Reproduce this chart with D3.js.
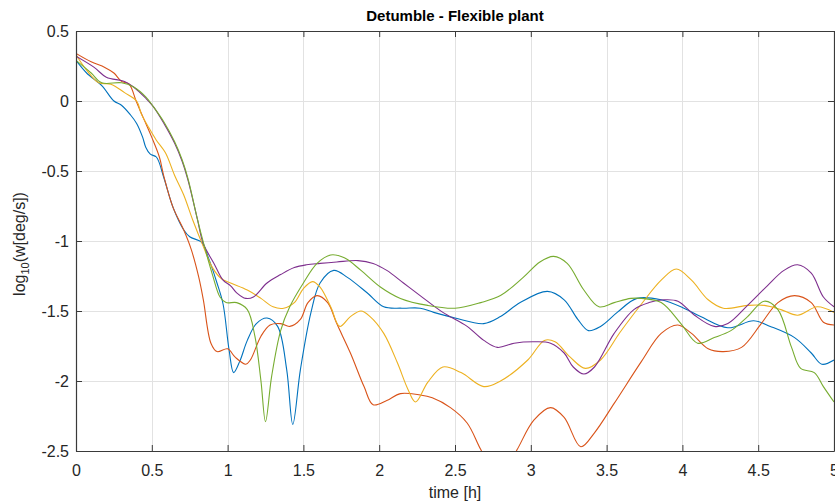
<!DOCTYPE html>
<html>
<head>
<meta charset="utf-8">
<script src="https://cdn.jsdelivr.net/npm/d3@7/dist/d3.min.js"></script>
<style>
  html, body { margin: 0; padding: 0; background: #ffffff; }
  svg { display: block; font-family: "Liberation Sans", Arial, Helvetica, sans-serif; }
</style>
</head>
<body>
<svg id="chart" width="835" height="504"></svg>
<script>
// Angular rate magnitude (log10 of deg/s) over time [h] for five detumble runs.
const seriesBlue = [[0,0.29],[0.07,0.20],[0.17,0.11],[0.25,0.0],[0.30,-0.03],[0.36,-0.10],[0.40,-0.16],[0.44,-0.26],[0.46,-0.33],[0.49,-0.38],[0.53,-0.40],[0.58,-0.55],[0.64,-0.76],[0.71,-0.92],[0.75,-0.97],[0.83,-1.01],[0.87,-1.11],[0.93,-1.30],[0.97,-1.45],[1.01,-1.78],[1.04,-1.94],[1.08,-1.86],[1.13,-1.71],[1.19,-1.59],[1.26,-1.55],[1.33,-1.61],[1.39,-1.92],[1.43,-2.31],[1.48,-1.92],[1.55,-1.51],[1.61,-1.30],[1.70,-1.21],[1.79,-1.26],[1.92,-1.37],[2.03,-1.47],[2.15,-1.48],[2.27,-1.48],[2.36,-1.51],[2.50,-1.55],[2.69,-1.59],[2.80,-1.54],[2.93,-1.44],[3.11,-1.36],[3.22,-1.42],[3.31,-1.56],[3.38,-1.64],[3.46,-1.61],[3.57,-1.51],[3.70,-1.41],[3.86,-1.42],[4.01,-1.48],[4.12,-1.54],[4.30,-1.62],[4.47,-1.57],[4.58,-1.61],[4.74,-1.69],[4.85,-1.80],[4.92,-1.88],[5.0,-1.85]];
const seriesOrange = [[0,0.34],[0.10,0.28],[0.19,0.24],[0.25,0.20],[0.30,0.14],[0.35,0.12],[0.40,-0.01],[0.46,-0.16],[0.50,-0.26],[0.55,-0.40],[0.58,-0.54],[0.64,-0.76],[0.71,-0.92],[0.76,-1.06],[0.81,-1.26],[0.84,-1.42],[0.89,-1.73],[0.93,-1.79],[1.0,-1.77],[1.05,-1.83],[1.12,-1.88],[1.15,-1.85],[1.22,-1.68],[1.28,-1.60],[1.35,-1.59],[1.41,-1.61],[1.48,-1.56],[1.53,-1.44],[1.59,-1.39],[1.66,-1.44],[1.72,-1.59],[1.81,-1.80],[1.90,-2.04],[1.96,-2.17],[2.05,-2.14],[2.14,-2.09],[2.27,-2.10],[2.35,-2.12],[2.47,-2.19],[2.58,-2.30],[2.67,-2.49],[2.79,-2.72],[2.91,-2.49],[3.02,-2.28],[3.13,-2.19],[3.22,-2.26],[3.33,-2.47],[3.42,-2.37],[3.55,-2.16],[3.73,-1.86],[3.86,-1.66],[3.97,-1.60],[4.06,-1.66],[4.17,-1.77],[4.27,-1.79],[4.39,-1.76],[4.52,-1.59],[4.63,-1.44],[4.74,-1.39],[4.85,-1.44],[4.93,-1.58],[5.0,-1.60]];
const seriesYellow = [[0,0.33],[0.07,0.22],[0.15,0.13],[0.23,0.12],[0.32,0.06],[0.40,0.0],[0.43,-0.09],[0.48,-0.19],[0.53,-0.28],[0.59,-0.37],[0.65,-0.53],[0.71,-0.67],[0.77,-0.85],[0.84,-1.04],[0.90,-1.19],[0.96,-1.27],[1.02,-1.30],[1.13,-1.35],[1.22,-1.41],[1.30,-1.47],[1.37,-1.48],[1.44,-1.44],[1.50,-1.34],[1.56,-1.29],[1.61,-1.33],[1.68,-1.47],[1.74,-1.61],[1.81,-1.54],[1.88,-1.50],[1.94,-1.54],[2.03,-1.66],[2.12,-1.87],[2.19,-2.06],[2.24,-2.15],[2.32,-2.01],[2.42,-1.90],[2.54,-1.94],[2.69,-2.04],[2.80,-2.00],[2.98,-1.85],[3.09,-1.71],[3.16,-1.72],[3.26,-1.83],[3.36,-1.91],[3.46,-1.85],[3.59,-1.65],[3.73,-1.45],[3.86,-1.28],[3.96,-1.20],[4.06,-1.28],[4.17,-1.42],[4.27,-1.48],[4.43,-1.46],[4.54,-1.46],[4.65,-1.49],[4.76,-1.53],[4.89,-1.47],[5.0,-1.51]];
const seriesPurple = [[0,0.32],[0.12,0.24],[0.20,0.17],[0.32,0.14],[0.38,0.10],[0.46,0.02],[0.51,-0.04],[0.58,-0.16],[0.65,-0.30],[0.70,-0.43],[0.74,-0.57],[0.80,-0.84],[0.84,-1.02],[0.91,-1.16],[0.97,-1.28],[1.02,-1.32],[1.06,-1.37],[1.12,-1.41],[1.17,-1.40],[1.26,-1.30],[1.35,-1.24],[1.44,-1.19],[1.52,-1.17],[1.61,-1.16],[1.72,-1.15],[1.86,-1.14],[1.96,-1.16],[2.05,-1.21],[2.16,-1.30],[2.27,-1.39],[2.42,-1.51],[2.58,-1.61],[2.69,-1.71],[2.78,-1.76],[2.89,-1.73],[3.02,-1.72],[3.13,-1.73],[3.22,-1.80],[3.28,-1.90],[3.35,-1.95],[3.42,-1.90],[3.55,-1.66],[3.68,-1.49],[3.78,-1.44],[3.88,-1.42],[3.97,-1.43],[4.08,-1.53],[4.21,-1.61],[4.30,-1.59],[4.43,-1.46],[4.56,-1.32],[4.67,-1.21],[4.76,-1.17],[4.85,-1.23],[4.93,-1.40],[5.0,-1.47]];
const seriesGreen = [[0,0.29],[0.10,0.20],[0.17,0.13],[0.30,0.13],[0.38,0.10],[0.46,0.03],[0.51,-0.04],[0.58,-0.15],[0.65,-0.29],[0.70,-0.42],[0.74,-0.56],[0.80,-0.84],[0.84,-1.01],[0.90,-1.24],[0.95,-1.40],[0.99,-1.44],[1.06,-1.44],[1.13,-1.49],[1.18,-1.68],[1.22,-2.00],[1.25,-2.29],[1.29,-1.97],[1.35,-1.64],[1.41,-1.47],[1.50,-1.30],[1.59,-1.16],[1.68,-1.10],[1.77,-1.12],[1.88,-1.21],[2.01,-1.33],[2.14,-1.41],[2.32,-1.46],[2.50,-1.48],[2.67,-1.44],[2.80,-1.39],[2.95,-1.26],[3.06,-1.15],[3.15,-1.11],[3.24,-1.16],[3.35,-1.35],[3.45,-1.47],[3.55,-1.44],[3.66,-1.41],[3.73,-1.41],[3.86,-1.44],[3.99,-1.59],[4.10,-1.73],[4.21,-1.69],[4.32,-1.64],[4.43,-1.54],[4.54,-1.43],[4.63,-1.49],[4.72,-1.76],[4.78,-1.91],[4.87,-1.94],[4.93,-2.04],[5.0,-2.15]];

const seriesList = [seriesBlue, seriesOrange, seriesYellow, seriesPurple, seriesGreen];
const seriesColors = ["#0072BD", "#D95319", "#EDB120", "#7E2F8E", "#77AC30"];

const xTicks = [0, 0.5, 1, 1.5, 2, 2.5, 3, 3.5, 4, 4.5, 5];
const xTickLabels = ["0", "0.5", "1", "1.5", "2", "2.5", "3", "3.5", "4", "4.5", "5"];
const yTicks = [-2.5, -2, -1.5, -1, -0.5, 0, 0.5];
const yTickLabels = ["-2.5", "-2", "-1.5", "-1", "-0.5", "0", "0.5"];

const titleText = "Detumble - Flexible plant";
const xLabelText = "time [h]";

const plot = { left: 76, top: 31, right: 834, bottom: 451 };
const svg = d3.select("#chart");

const x = d3.scaleLinear().domain([0, 5]).range([plot.left, plot.right]);
const y = d3.scaleLinear().domain([-2.5, 0.5]).range([plot.bottom, plot.top]);

// Grid
const grid = svg.append("g").attr("stroke", "#e2e2e2").attr("stroke-width", 1);
grid.selectAll("line.gx").data(xTicks).join("line")
  .attr("x1", d => Math.round(x(d)) + 0.5).attr("x2", d => Math.round(x(d)) + 0.5)
  .attr("y1", plot.top).attr("y2", plot.bottom);
grid.selectAll("line.gy").data(yTicks).join("line")
  .attr("y1", d => Math.round(y(d)) + 0.5).attr("y2", d => Math.round(y(d)) + 0.5)
  .attr("x1", plot.left).attr("x2", plot.right);

// Curves
svg.append("clipPath").attr("id", "plotClip").append("rect")
  .attr("x", plot.left).attr("y", plot.top)
  .attr("width", plot.right - plot.left).attr("height", plot.bottom - plot.top);

const line = d3.line()
  .x(d => x(d[0])).y(d => y(d[1]))
  .curve(d3.curveCatmullRom.alpha(0.5));

svg.append("g").attr("clip-path", "url(#plotClip)")
  .selectAll("path").data(seriesList).join("path")
  .attr("d", line)
  .attr("fill", "none")
  .attr("stroke", (d, i) => seriesColors[i])
  .attr("stroke-width", 1.1);

// Axes (box with inward ticks)
const axisColor = "#3a3a3a";
function styleAxis(g) {
  g.selectAll("path.domain").attr("stroke", axisColor).attr("stroke-width", 1.2);
  g.selectAll(".tick line").attr("stroke", axisColor);
  g.selectAll(".tick text").attr("fill", "#262626").attr("font-size", 16)
    .attr("font-family", "\"Liberation Sans\", Arial, Helvetica, sans-serif");
}

svg.append("g").attr("transform", `translate(0,${plot.bottom})`)
  .call(d3.axisBottom(x).tickValues(xTicks).tickFormat((d, i) => xTickLabels[i])
    .tickSizeInner(-6).tickSizeOuter(0).tickPadding(14))
  .call(styleAxis);
svg.append("g").attr("transform", `translate(0,${plot.top})`)
  .call(d3.axisTop(x).tickValues(xTicks).tickFormat("")
    .tickSizeInner(-6).tickSizeOuter(0))
  .call(styleAxis);
svg.append("g").attr("transform", `translate(${plot.left},0)`)
  .call(d3.axisLeft(y).tickValues(yTicks).tickFormat((d, i) => yTickLabels[i])
    .tickSizeInner(-6).tickSizeOuter(0).tickPadding(7))
  .call(styleAxis);
svg.append("g").attr("transform", `translate(${plot.right},0)`)
  .call(d3.axisRight(y).tickValues(yTicks).tickFormat("")
    .tickSizeInner(-6).tickSizeOuter(0))
  .call(styleAxis);

// Title and axis labels
svg.append("text")
  .attr("x", (plot.left + plot.right) / 2).attr("y", 21)
  .attr("text-anchor", "middle").attr("font-weight", "bold")
  .attr("font-size", 15).attr("fill", "#000")
  .text(titleText);

svg.append("text")
  .attr("x", (plot.left + plot.right) / 2).attr("y", 498)
  .attr("text-anchor", "middle").attr("font-size", 16).attr("fill", "#262626")
  .text(xLabelText);

const yl = svg.append("text")
  .attr("transform", "translate(25,244) rotate(-90)")
  .attr("text-anchor", "middle").attr("font-size", 16).attr("fill", "#262626");
yl.append("tspan").text("log");
yl.append("tspan").attr("font-size", 11).attr("dy", 4).text("10");
yl.append("tspan").attr("dy", -4).text("(w[deg/s])");
</script>
</body>
</html>
